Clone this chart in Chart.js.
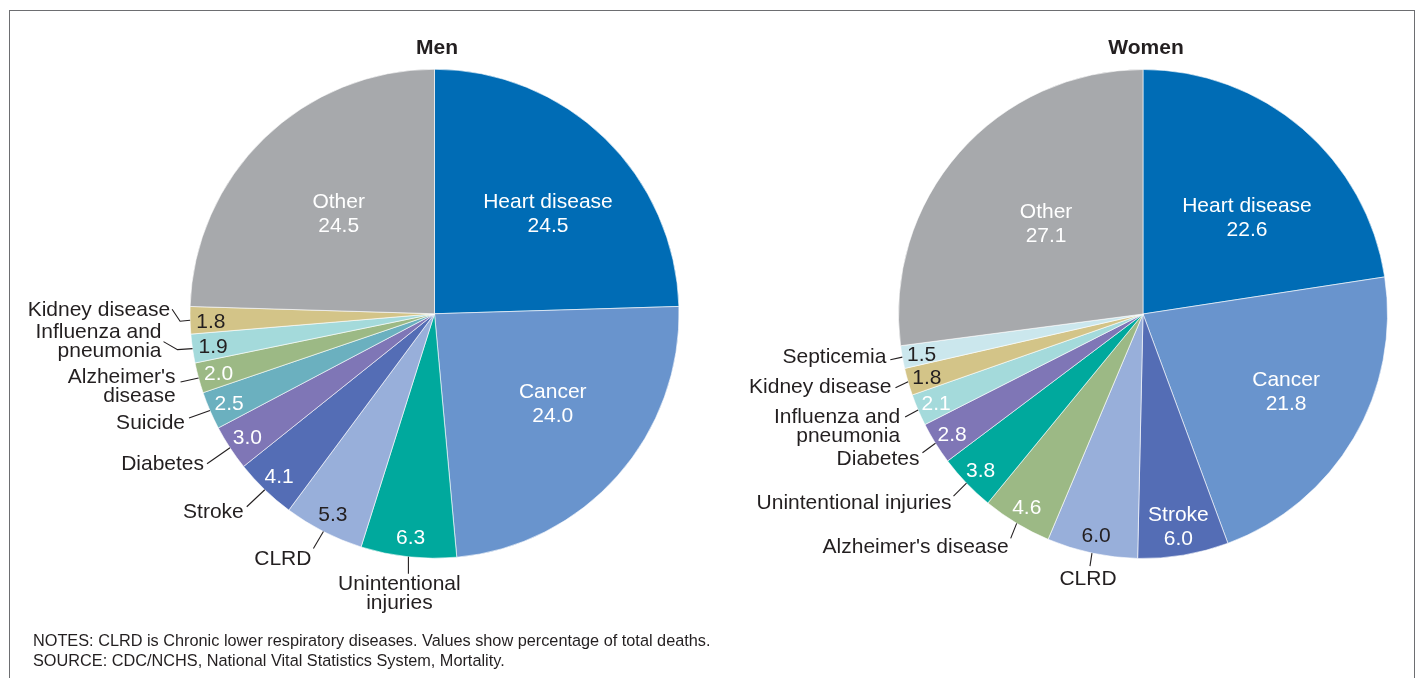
<!DOCTYPE html>
<html>
<head>
<meta charset="utf-8">
<script src="https://cdn.jsdelivr.net/npm/chart.js@4.4.1/dist/chart.umd.min.js"></script>
<style>
  html, body { margin: 0; padding: 0; background: #fff; overflow: hidden; }
  #page { position: relative; width: 1422px; height: 678px; font-family: "Liberation Sans", Arial, sans-serif; color: #231f20; }
  #frame { position: absolute; left: 9px; top: 10px; width: 1404px; height: 720px; border: 1.5px solid #6d6e71; border-bottom: none; }
  canvas { position: absolute; left: 0; top: 0; }
  .title { position: absolute; top: 35px; font-weight: bold; font-size: 21px; line-height: 24px; transform: translateX(-50%); }
  #notes { position: absolute; left: 33px; top: 630px; font-size: 16.3px; line-height: 20px; }
</style>
</head>
<body>
<div id="page">
  <div id="frame"></div>
  <canvas id="men" width="1422" height="678"></canvas>
  <canvas id="women" width="1422" height="678"></canvas>
  <div class="title" style="left:437px">Men</div>
  <div class="title" style="left:1146px">Women</div>
  <div id="notes">NOTES: CLRD is Chronic lower respiratory diseases. Values show percentage of total deaths.<br>SOURCE: CDC/NCHS, National Vital Statistics System, Mortality.</div>
</div>
<script>
// data (percent of total deaths), clockwise from 12 o'clock
const menCauses = ['Heart disease', 'Cancer', 'Unintentional injuries', 'CLRD', 'Stroke', 'Diabetes',
  'Suicide', "Alzheimer's disease", 'Influenza and pneumonia', 'Kidney disease', 'Other'];
const menValues = [24.5, 24.0, 6.3, 5.3, 4.1, 3.0, 2.5, 2.0, 1.9, 1.8, 24.5];

const womenCauses = ['Heart disease', 'Cancer', 'Stroke', 'CLRD', "Alzheimer's disease", 'Unintentional injuries',
  'Diabetes', 'Influenza and pneumonia', 'Kidney disease', 'Septicemia', 'Other'];
const womenValues = [22.6, 21.8, 6.0, 6.0, 4.6, 3.8, 2.8, 2.1, 1.8, 1.5, 27.1];

const causeColors = {
  'Heart disease': '#006cb5',
  'Cancer': '#6994cd',
  'Unintentional injuries': '#00a99d',
  'CLRD': '#98afda',
  'Stroke': '#546db5',
  'Diabetes': '#7f76b6',
  'Suicide': '#6bb0bf',
  "Alzheimer's disease": '#9cb985',
  'Influenza and pneumonia': '#a4dadb',
  'Kidney disease': '#d3c488',
  'Septicemia': '#cbe7ed',
  'Other': '#a7a9ac'
};

const DARK = '#231f20';
const W = '#fff';
const R = 244.5;
const TEXT_DY = 2;

// label placement: inside = name + value in the slice, otherwise value inside and name outside with a leader
const menLabelSpecs = [
  { inside: true, r: 0.623, da: 4 },
  { inside: true, r: 0.605, da: -4.6 },
  { lead: [0, 17], align: 'center', text: [-9, 8], wrap: true },
  { lead: [-10, 17], align: 'right', text: [-2, 9] },
  { lead: [-18, 17], align: 'right', text: [-3, 3] },
  { lead: [-23, 16], align: 'right', text: [-3, -2] },
  { lead: [-21, 7.5], align: 'right', text: [-4, 3] },
  { lead: [-18, 4], align: 'right', text: [-5, -7], wrap: true },
  { elbow: [-15, 1], lead: [-29, -7], align: 'right', text: [-2, -11], wrap: true },
  { elbow: [-10, 1], lead: [-18, -11], align: 'right', text: [-2, -1] },
  { inside: true, r: 0.57, da: 0.7 }
];
const menValueColors = [W, W, W, DARK, W, W, W, W, DARK, DARK, W];

const womenLabelSpecs = [
  { inside: true, r: 0.585, da: 6 },
  { inside: true, r: 0.664, da: -2.3 },
  { inside: true, r: 0.875, da: 0 },
  { lead: [-2, 13], align: 'center', text: [-2, 11] },
  { lead: [-6, 15], align: 'right', text: [-2, 7] },
  { lead: [-13, 13], align: 'right', text: [-2, 5] },
  { lead: [-13, 9.5], align: 'right', text: [-3, 4] },
  { lead: [-13, 7], align: 'right', text: [-5, -2], wrap: true },
  { lead: [-12.6, 6], align: 'right', text: [-4, -3] },
  { lead: [-12, 2.6], align: 'right', text: [-4, -5] },
  { inside: true, r: 0.547, da: 2.3 }
];
const womenValueColors = [W, W, W, DARK, W, W, W, W, DARK, DARK, W];

const pieLabels = {
  id: 'pieLabels',
  afterDatasetsDraw(chart, args, opts) {
    const ctx = chart.ctx;
    const meta = chart.getDatasetMeta(0);
    const values = chart.data.datasets[0].data;
    const names = chart.data.labels;
    ctx.save();
    ctx.font = '21px "Liberation Sans", Arial, sans-serif';
    ctx.textBaseline = 'middle';
    meta.data.forEach((arc, i) => {
      const p = arc.getProps(['x', 'y', 'startAngle', 'endAngle', 'outerRadius'], true);
      const spec = opts.specs[i];
      const mid = (p.startAngle + p.endAngle) / 2;
      const at = (r, da = 0) => {
        const a = mid + da * Math.PI / 180;
        return [p.x + r * Math.cos(a), p.y + r * Math.sin(a)];
      };
      const val = values[i].toFixed(1);
      ctx.fillStyle = opts.valueColors[i];
      ctx.textAlign = 'center';
      if (spec.inside) {
        const [x, y] = at(spec.r * p.outerRadius, spec.da);
        ctx.fillText(names[i], x, y - 12 + TEXT_DY);
        ctx.fillText(val, x, y + 12 + TEXT_DY);
        return;
      }
      const [vx, vy] = at(opts.valueRadius * p.outerRadius);
      ctx.fillText(val, vx, vy + TEXT_DY);

      // leader line from the slice edge to the outside name
      const [ex, ey] = at(p.outerRadius);
      const lx = ex + spec.lead[0], ly = ey + spec.lead[1];
      ctx.strokeStyle = DARK;
      ctx.lineWidth = 1.1;
      ctx.beginPath();
      ctx.moveTo(ex, ey);
      if (spec.elbow) ctx.lineTo(ex + spec.elbow[0], ey + spec.elbow[1]);
      ctx.lineTo(lx, ly);
      ctx.stroke();

      let lines = [names[i]];
      if (spec.wrap) {
        const k = names[i].lastIndexOf(' ');
        lines = [names[i].slice(0, k), names[i].slice(k + 1)];
      }
      ctx.fillStyle = DARK;
      ctx.textAlign = spec.align;
      lines.forEach((t, j) => ctx.fillText(t, lx + spec.text[0], ly + spec.text[1] + j * 19 + TEXT_DY));
    });
    ctx.restore();
  }
};

function makePie(id, causes, values, cx, cy, specs, valueColors, valueRadius) {
  const half = R + 0.3;
  return new Chart(document.getElementById(id), {
    type: 'pie',
    data: {
      labels: causes,
      datasets: [{
        data: values,
        backgroundColor: causes.map(c => causeColors[c]),
        borderColor: '#ffffff',
        borderWidth: 0.6
      }]
    },
    options: {
      responsive: false,
      animation: false,
      layout: {
        padding: { left: cx - half, right: 1422 - (cx + half), top: cy - half, bottom: 678 - (cy + half) }
      },
      plugins: {
        legend: { display: false },
        tooltip: { enabled: false },
        pieLabels: { specs, valueColors, valueRadius }
      }
    },
    plugins: [pieLabels]
  });
}

makePie('men', menCauses, menValues, 434.5, 313.75, menLabelSpecs, menValueColors, 0.915);
makePie('women', womenCauses, womenValues, 1143, 314, womenLabelSpecs, womenValueColors, 0.92);
</script>
</body>
</html>
